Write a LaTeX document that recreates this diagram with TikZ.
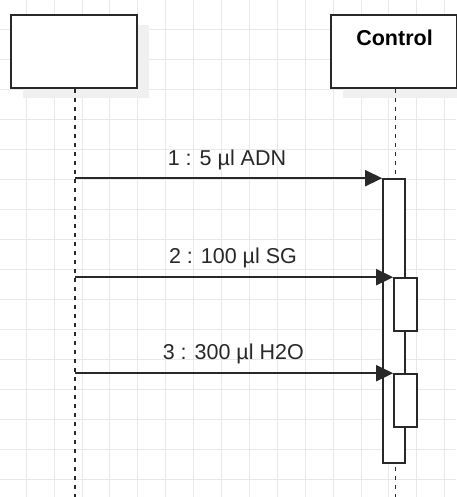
\documentclass[tikz,border=0pt]{standalone}
\usepackage{fontspec}
\setmainfont{Liberation Sans}
\usetikzlibrary{arrows.meta,positioning}
\definecolor{gridgrey}{RGB}{232,232,232}
\definecolor{linegrey}{RGB}{40,40,40}
\definecolor{shadowgrey}{RGB}{240,240,240}

\begin{document}
\begin{tikzpicture}[x=1pt, y=-1pt,
			>={Triangle[length=17pt,width=16pt]},   %Pfeilspitzen
			font=\fontsize{21.5}{25}\selectfont,
			lifebox/.style={draw=linegrey, fill=white, line width=1.6pt, minimum width=126pt, minimum height=73pt, inner sep=0pt},
			actbox/.style={draw=linegrey, fill=white, line width=1.6pt, minimum width=22pt, inner sep=0pt},
			lifeline/.style={draw=linegrey, line width=1.5pt, dash pattern=on 4pt off 5pt},
			msg/.style={draw=linegrey, line width=1.6pt, ->},
			msglabel/.style={text=linegrey, inner sep=0pt}]
			\useasboundingbox (0,0) rectangle (456,497); %Bildbereich
			% Raster zeichnen
			\foreach \x in {26.2,54.1,...,456} \draw[gridgrey, line width=0.9pt] (\x,0) -- (\x,497);
			\foreach \y in {29.3,59.3,...,497} \draw[gridgrey, line width=0.9pt] (0,\y) -- (456,\y);
			% Schatten
			\foreach \xl in {11,331} {\fill[shadowgrey] (\xl+12,25) rectangle (\xl+138,98);}
			% Objekte
			\node[lifebox] (obj) at (74,51.5) {};
			\node[lifebox] (ctrl) at (394,51.5) {};
			\node[font=\fontsize{21.5}{25}\selectfont\bfseries, inner sep=0pt] (ctrltxt) at (394.5,37.5) {Control};
			% Lebenslinien
			\coordinate (objend) at (75,497);
			\coordinate (ctrlend) at (395.5,497);
			\draw[lifeline] (obj.south -| objend) -- (objend);
			\draw[lifeline] (ctrl.south -| ctrlend) -- (ctrlend);
			% Aktivierungsbalken
			\node[actbox, minimum height=284pt] (act) at (394,321) {};
			\node[actbox, minimum height=53pt, minimum width=23pt] (act2) at (405.5,304.5) {};
			\node[actbox, minimum height=53pt, minimum width=23pt] (act3) at (405.5,400.5) {};
			% Nachrichten
			\coordinate (m1) at (objend |- act.north west);
			\coordinate (m2) at (objend |- act2.north west);
			\coordinate (m3) at (objend |- act3.north west);
			\draw[msg] (m1) -- (act.north west);
			\draw[msg] (m2) -- (act2.north west);
			\draw[msg] (m3) -- (act3.north west);
			% Beschriftung
			\node[msglabel] (l1) at (227,159.5) {1 : 5 µl ADN};
			\node[msglabel] (l2) at (233,258) {2 : 100 µl SG};
			\node[msglabel] (l3) at (233.3,353.5) {3 : 300 µl H2O};
		\end{tikzpicture}
\end{document}
